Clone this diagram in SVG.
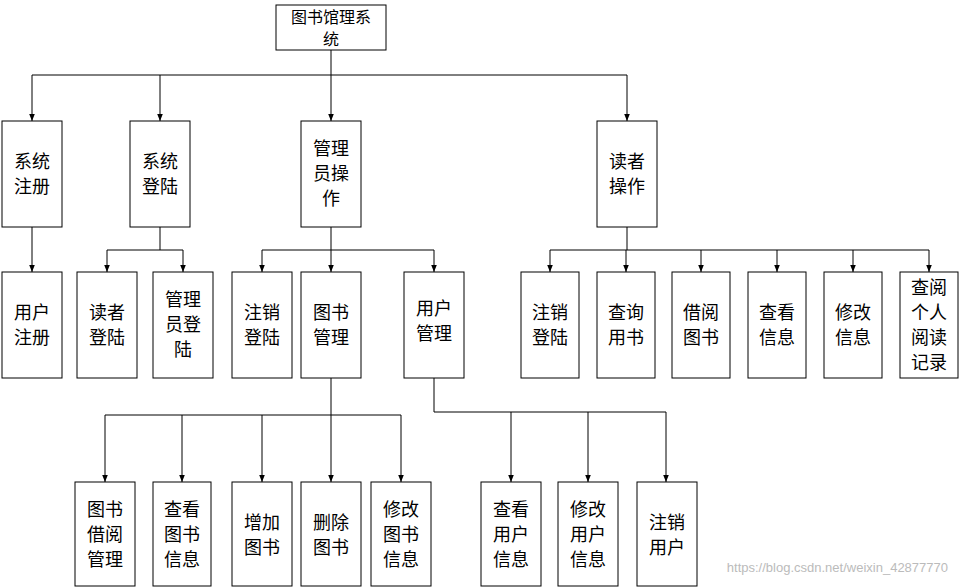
<svg xmlns="http://www.w3.org/2000/svg" width="960" height="587" viewBox="0 0 960 587">
<defs>
<marker id="a" viewBox="0 0 10 10" refX="10" refY="5" markerWidth="7" markerHeight="7" orient="auto"><path d="M0,1 L10,5 L0,9 z" fill="#000"/></marker>
<style>
rect{fill:#fff;stroke:#000;stroke-width:1}
text{font-family:"Noto Sans CJK SC",sans-serif;font-size:18px;text-anchor:middle;fill:#000}
.rt{font-size:16px}
.c line{stroke:#000;stroke-width:1}
.c .ar{marker-end:url(#a)}
.wm{font-family:"Liberation Sans",sans-serif;font-size:13px;fill:#bbb;text-anchor:end}
</style>
</defs>
<rect x="0" y="0" width="960" height="587" style="fill:#fff;stroke:none"/>
<g class="c">
<line x1="331" y1="50" x2="331" y2="75"/>
<line x1="32" y1="75" x2="627" y2="75"/>
<line class="ar" x1="32" y1="75" x2="32" y2="121"/>
<line class="ar" x1="160" y1="75" x2="160" y2="121"/>
<line class="ar" x1="331" y1="75" x2="331" y2="121"/>
<line class="ar" x1="627" y1="75" x2="627" y2="121"/>
<line class="ar" x1="32" y1="227" x2="32" y2="272"/>
<line x1="160" y1="227" x2="160" y2="250"/>
<line x1="107" y1="250" x2="183" y2="250"/>
<line class="ar" x1="107" y1="250" x2="107" y2="272"/>
<line class="ar" x1="183" y1="250" x2="183" y2="272"/>
<line x1="331" y1="227" x2="331" y2="250"/>
<line x1="262" y1="250" x2="434" y2="250"/>
<line class="ar" x1="262" y1="250" x2="262" y2="272"/>
<line class="ar" x1="331" y1="250" x2="331" y2="272"/>
<line class="ar" x1="434" y1="250" x2="434" y2="272"/>
<line x1="627" y1="227" x2="627" y2="250"/>
<line x1="550" y1="250" x2="929" y2="250"/>
<line class="ar" x1="550" y1="250" x2="550" y2="272"/>
<line class="ar" x1="626" y1="250" x2="626" y2="272"/>
<line class="ar" x1="701" y1="250" x2="701" y2="272"/>
<line class="ar" x1="777" y1="250" x2="777" y2="272"/>
<line class="ar" x1="853" y1="250" x2="853" y2="272"/>
<line class="ar" x1="929" y1="250" x2="929" y2="272"/>
<line x1="331" y1="378" x2="331" y2="415"/>
<line x1="105" y1="415" x2="401" y2="415"/>
<line class="ar" x1="105" y1="415" x2="105" y2="482"/>
<line class="ar" x1="182" y1="415" x2="182" y2="482"/>
<line class="ar" x1="262" y1="415" x2="262" y2="482"/>
<line class="ar" x1="331" y1="415" x2="331" y2="482"/>
<line class="ar" x1="401" y1="415" x2="401" y2="482"/>
<line x1="434" y1="378" x2="434" y2="412"/>
<line x1="434" y1="412" x2="666" y2="412"/>
<line class="ar" x1="511" y1="412" x2="511" y2="482"/>
<line class="ar" x1="588" y1="412" x2="588" y2="482"/>
<line class="ar" x1="666" y1="412" x2="666" y2="482"/>
</g>
<g id="root"><rect x="276" y="5" width="110" height="45"/><text class="rt" x="331" y="23">图书馆理系</text><text class="rt" x="331" y="45">统</text></g>
<g id="n1"><rect x="2" y="121" width="60" height="106"/><text x="32" y="168">系统</text><text x="32" y="193">注册</text></g>
<g id="n2"><rect x="130" y="121" width="60" height="106"/><text x="160" y="168">系统</text><text x="160" y="193">登陆</text></g>
<g id="n3"><rect x="301" y="121" width="60" height="106"/><text x="331" y="155">管理</text><text x="331" y="180">员操</text><text x="331" y="205">作</text></g>
<g id="n4"><rect x="597" y="121" width="60" height="106"/><text x="627" y="168">读者</text><text x="627" y="193">操作</text></g>
<g id="n5"><rect x="2" y="272" width="60" height="106"/><text x="32" y="319">用户</text><text x="32" y="344">注册</text></g>
<g id="n6"><rect x="77" y="272" width="60" height="106"/><text x="107" y="319">读者</text><text x="107" y="344">登陆</text></g>
<g id="n7"><rect x="153" y="272" width="60" height="106"/><text x="183" y="306">管理</text><text x="183" y="331">员登</text><text x="183" y="356">陆</text></g>
<g id="n8"><rect x="232" y="272" width="60" height="106"/><text x="262" y="319">注销</text><text x="262" y="344">登陆</text></g>
<g id="n9"><rect x="301" y="272" width="60" height="106"/><text x="331" y="319">图书</text><text x="331" y="344">管理</text></g>
<g id="n10"><rect x="404" y="272" width="60" height="106"/><text x="434" y="315">用户</text><text x="434" y="340">管理</text></g>
<g id="n11"><rect x="521" y="272" width="58" height="106"/><text x="550" y="319">注销</text><text x="550" y="344">登陆</text></g>
<g id="n12"><rect x="597" y="272" width="58" height="106"/><text x="626" y="319">查询</text><text x="626" y="344">用书</text></g>
<g id="n13"><rect x="672" y="272" width="58" height="106"/><text x="701" y="319">借阅</text><text x="701" y="344">图书</text></g>
<g id="n14"><rect x="748" y="272" width="58" height="106"/><text x="777" y="319">查看</text><text x="777" y="344">信息</text></g>
<g id="n15"><rect x="824" y="272" width="58" height="106"/><text x="853" y="319">修改</text><text x="853" y="344">信息</text></g>
<g id="n16"><rect x="900" y="272" width="58" height="106"/><text x="929" y="294">查阅</text><text x="929" y="319">个人</text><text x="929" y="344">阅读</text><text x="929" y="369">记录</text></g>
<g id="n17"><rect x="75" y="482" width="60" height="104"/><text x="105" y="516">图书</text><text x="105" y="541">借阅</text><text x="105" y="566">管理</text></g>
<g id="n18"><rect x="153" y="482" width="58" height="104"/><text x="182" y="516">查看</text><text x="182" y="541">图书</text><text x="182" y="566">信息</text></g>
<g id="n19"><rect x="232" y="482" width="60" height="104"/><text x="262" y="529">增加</text><text x="262" y="554">图书</text></g>
<g id="n20"><rect x="301" y="482" width="60" height="104"/><text x="331" y="529">删除</text><text x="331" y="554">图书</text></g>
<g id="n21"><rect x="371" y="482" width="60" height="104"/><text x="401" y="516">修改</text><text x="401" y="541">图书</text><text x="401" y="566">信息</text></g>
<g id="n22"><rect x="481" y="482" width="60" height="104"/><text x="511" y="516">查看</text><text x="511" y="541">用户</text><text x="511" y="566">信息</text></g>
<g id="n23"><rect x="558" y="482" width="60" height="104"/><text x="588" y="516">修改</text><text x="588" y="541">用户</text><text x="588" y="566">信息</text></g>
<g id="n24"><rect x="637" y="482" width="60" height="104"/><text x="667" y="529">注销</text><text x="667" y="554">用户</text></g>
<text class="wm" x="948" y="572">https://blog.csdn.net/weixin_42877770</text>
</svg>
